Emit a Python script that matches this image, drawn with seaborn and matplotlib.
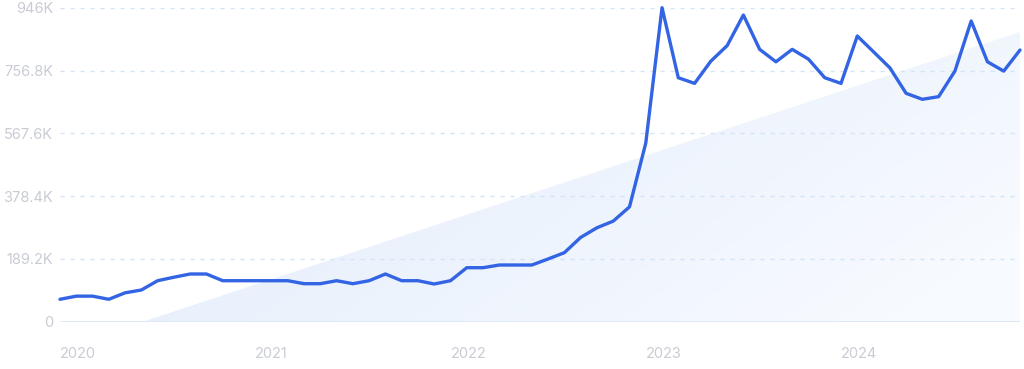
import numpy as np
import pandas as pd
import matplotlib
matplotlib.use("Agg")
import matplotlib.pyplot as plt
from matplotlib.patches import Polygon
from matplotlib.colors import LinearSegmentedColormap
import seaborn as sns

# ---- data ----
months = pd.date_range("2020-01-01", "2024-12-01", freq="MS").strftime("%Y-%m").tolist()
values = [67.5, 77, 77, 67.5, 87, 95.5, 123.5, 134, 143.7, 143.7,
          123.5, 123.5, 123.5, 123.5, 123.5, 114.5, 114.5, 123.5, 114.5, 123.5,
          143.7, 123.5, 123.5, 113.6, 123.5, 162.7, 162.7, 170.8, 170.8, 170.8,
          189, 208, 254, 283, 303, 346, 538, 946, 735, 718,
          785, 831.6, 924, 820.5, 783, 820.5, 791, 735, 718, 860.7,
          813, 765, 688, 670, 678, 755, 906, 783, 755, 818.5]
values = [v * 1000 for v in values]
ytick_values = [0, 189200, 378400, 567600, 756800, 946000]
ytick_labels = ["0", "189.2K", "378.4K", "567.6K", "756.8K", "946K"]
xtick_labels = ["2020", "2021", "2022", "2023", "2024"]
# decorative trend wedge (start index on baseline, end value at right edge)
trend_start_idx = 5.1
trend_end_value = 873000

df = pd.DataFrame({"idx": np.arange(len(values)), "value": values, "month": months})

sns.set_theme(style="white")
plt.rcParams["font.family"] = ["Inter", "DejaVu Sans"]

fig = plt.figure(figsize=(10.24, 3.69), dpi=100)
ax = fig.add_axes([60 / 1024, 1 - 321.7 / 369, 960 / 1024, (321.7 - 7.7) / 369])

n = len(values)
ax.set_xlim(0, n - 1)
ax.set_ylim(0, ytick_values[-1])

# gradient wedge
cmap = LinearSegmentedColormap.from_list("wedge", ["#dfeafa", "#f7faff"])
gx = np.linspace(0, 1, 256)
gy = np.linspace(0, 1, 64)
GX, GY = np.meshgrid(gx, gy)
grad = 0.75 * GX + 0.35 * (1 - GY)
img = ax.imshow(grad, extent=[0, n - 1, 0, ytick_values[-1]], origin="lower",
                aspect="auto", cmap=cmap, vmin=0, vmax=1, zorder=0)
poly = Polygon([[trend_start_idx, 0], [n - 1, trend_end_value], [n - 1, 0]],
               closed=True, transform=ax.transData, facecolor="none", edgecolor="none")
ax.add_patch(poly)
img.set_clip_path(poly)

# grid lines
for yv in ytick_values[1:]:
    ax.axhline(yv, color="#d3e4f6", lw=1.0, ls=(0, (3, 4.2)), zorder=1)
ax.axhline(0, color="#dbe7f5", lw=1.3, zorder=1)

sns.lineplot(data=df, x="idx", y="value", ax=ax, color="#3264e4", lw=2.4,
             zorder=3, clip_on=False)

ax.set_yticks(ytick_values)
ax.set_yticklabels(ytick_labels)
ax.set_xticks([0, 12, 24, 36, 48])
ax.set_xticklabels(xtick_labels, ha="left")
ax.tick_params(axis="y", length=0, pad=5, labelsize=10.5, labelcolor="#c9ccd4")
ax.tick_params(axis="x", length=0, pad=18, labelsize=10.5, labelcolor="#c9ccd4")
ax.set_xlabel("")
ax.set_ylabel("")
for s in ax.spines.values():
    s.set_visible(False)
ax.grid(False)

fig.savefig("out.png", dpi=100)
